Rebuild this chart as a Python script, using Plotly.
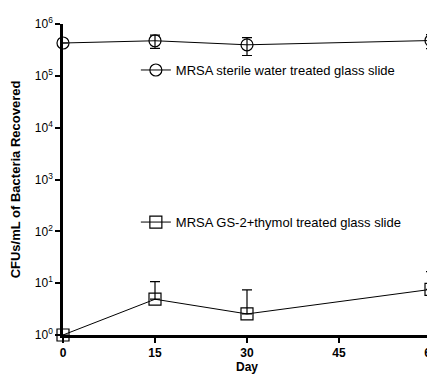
import plotly.graph_objects as go

days = [0, 15, 30, 60]
water_mean = [4.3e5, 4.75e5, 3.97e5, 4.8e5]
water_sd = [0, 1.35e5, 1.5e5, 1.45e5]
gs2_mean = [1.0, 4.9, 2.55, 7.6]
gs2_sd = [0, 5.8, 4.85, 9.1]
x_ticks = [0, 15, 30, 45, 60]
y_ticks = [1, 10, 100, 1000, 1e4, 1e5, 1e6]
y_labels = ["10<sup>%d</sup>" % i for i in range(7)]

font = "Liberation Sans, Arial, sans-serif"
fig = go.Figure()
fig.add_trace(go.Scatter(
    x=days, y=water_mean, mode="lines+markers",
    name="MRSA sterile water treated glass slide",
    line=dict(color="black", width=1),
    marker=dict(symbol="circle-open", size=12, color="black", line=dict(width=1.2)),
    error_y=dict(type="data", array=water_sd, color="black", thickness=1.2, width=5),
    cliponaxis=False, legend="legend", showlegend=True))
fig.add_trace(go.Scatter(
    x=days, y=gs2_mean, mode="lines+markers",
    name="MRSA GS-2+thymol treated glass slide",
    line=dict(color="black", width=1),
    marker=dict(symbol="square-open", size=12, color="black", line=dict(width=1.2)),
    error_y=dict(type="data", array=gs2_sd, arrayminus=[0, 0, 0, 0], color="black", thickness=1.2, width=5),
    cliponaxis=False, legend="legend2", showlegend=True))

# page body has an 8px default margin; figure is sized to fit the window
fig.update_layout(
    width=427, height=366,
    margin=dict(l=55, r=4, t=16, b=39, autoexpand=False),
    plot_bgcolor="white", paper_bgcolor="white",
    font=dict(family=font, color="black", size=12),
    showlegend=True,
    legend=dict(x=0.198, y=0.852, xanchor="left", yanchor="middle", bgcolor="rgba(0,0,0,0)",
                font=dict(size=13), itemwidth=30),
    legend2=dict(x=0.198, y=0.363, xanchor="left", yanchor="middle", bgcolor="rgba(0,0,0,0)",
                 font=dict(size=13), itemwidth=30),
    xaxis=dict(range=[0, 60], tickvals=x_ticks, showgrid=False, zeroline=False,
               showline=True, linecolor="black", linewidth=2.5, automargin=False,
               ticks="outside", ticklen=5, tickwidth=2, tickcolor="black",
               ticklabeloverflow="allow",
               tickfont=dict(family=font, size=12, weight="bold"),
               title=dict(text="<b>Day</b>", font=dict(size=12), standoff=7)),
    yaxis=dict(type="log", range=[0, 6], tickvals=y_ticks, ticktext=y_labels,
               showgrid=False, zeroline=False, automargin=False,
               showline=True, linecolor="black", linewidth=2.5,
               ticks="outside", ticklen=5, tickwidth=2, tickcolor="black",
               ticklabeloverflow="allow",
               tickfont=dict(family=font, size=12),
               title=dict(text="<b>CFUs/mL of Bacteria Recovered</b>", font=dict(size=13), standoff=12)),
)
fig.write_html("out.html")
